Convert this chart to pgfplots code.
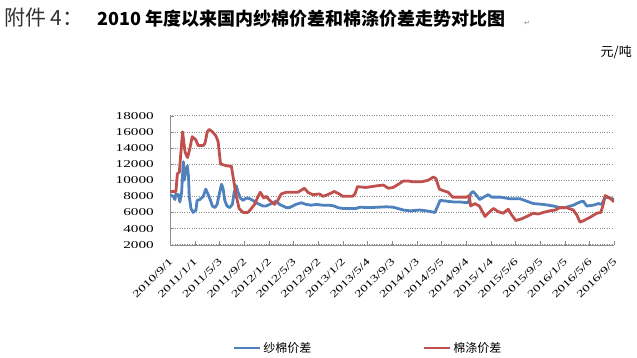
\documentclass[border=0pt]{standalone}
\usepackage{fontspec}
\usepackage{pgfplots}
\pgfplotsset{compat=1.18}
\setmainfont{Liberation Serif}
\newfontfamily\tickfont[FakeStretch=1.45]{Liberation Serif}
\newfontfamily\cjk{Noto Sans CJK SC}
\newfontfamily\symfont{DejaVu Sans}
\definecolor{cblue}{RGB}{79,129,189}
\definecolor{cred}{RGB}{192,80,77}
\begin{document}
\begin{tikzpicture}
\path[use as bounding box] (0,0) rectangle (637pt,357pt);
\node[anchor=base west, inner sep=0pt, text=black!80] at (4pt,331pt) {\cjk\fontsize{21}{24}\selectfont 附件 4：};
\node[anchor=base west, inner sep=0pt] at (97pt,331pt) {\cjk\bfseries\fontsize{18}{21}\selectfont 2010 年度以来国内纱棉价差和棉涤价差走势对比图};
\node[anchor=base west, inner sep=0pt, text=gray] at (524pt,331pt) {\symfont\fontsize{7}{8}\selectfont ↵};
\node[anchor=base east, inner sep=0pt] at (632pt,300pt) {\cjk\fontsize{13}{15}\selectfont 元/吨};
\begin{axis}[
  at={(170pt,112.3pt)}, anchor=south west,
  width=444pt, height=129pt, scale only axis,
  xmin=0, xmax=18, ymin=2000, ymax=18000,
  xtick={0,...,18},
  xticklabels={2010/9/1,2011/1/1,2011/5/3,2011/9/2,2012/1/2,2012/5/3,2012/9/2,2013/1/2,2013/5/4,2013/9/3,2014/1/3,2014/5/5,2014/9/4,2015/1/4,2015/5/6,2015/9/5,2016/1/5,2016/5/6,2016/9/5},
  ytick={2000,4000,...,18000},
  scaled y ticks=false,
  /pgf/number format/assume math mode=true,
  /pgf/number format/set thousands separator={},
  yticklabel style={font=\tickfont\fontsize{10.5}{12}\selectfont, anchor=east, inner sep=0pt, xshift=-16pt},
  xticklabel style={font=\tickfont\fontsize{10}{12}\selectfont, yshift=-15pt, xshift=1pt, rotate=45, anchor=east, inner sep=0pt},
  axis x line*=bottom, axis y line*=left,
  axis line style={-, color=gray!90},
  tick align=inside, major tick length=4pt,
  tick style={color=gray!90},
  ymajorgrids, grid style={dotted, color=gray!90, line width=0.6pt},
  legend style={font=\cjk\fontsize{12}{14}\selectfont, draw=none, fill=none, legend columns=2,
    at={(axis description cs:0.142,-0.80)}, anchor=west, inner sep=0pt,
    /tikz/every even column/.append style={column sep=110pt}},
  legend image code/.code={\draw[#1, line width=2pt] (0pt,0pt) -- (26pt,0pt);},
  legend cell align=left,
]
\addplot[cblue, line width=2.8pt, line join=round] coordinates {
(0,8200)(0.13,8000)(0.20,7600)(0.24,8300)(0.34,8200)(0.40,7300)(0.47,8500)(0.54,12300)
(0.58,10000)(0.63,11000)(0.70,11800)(0.75,10500)(0.78,8000)(0.85,6500)(0.94,6000)(1.05,6300)
(1.10,7500)(1.21,7600)(1.28,7800)(1.35,8000)(1.45,8900)(1.55,8200)(1.64,7500)(1.72,6800)
(1.82,6600)(1.91,7000)(1.99,8200)(2.09,9500)(2.15,9000)(2.22,7500)(2.31,6800)(2.42,6600)
(2.53,7000)(2.60,8500)(2.69,9300)(2.76,8500)(2.85,7800)(2.96,7500)(3.10,7800)(3.23,7700)
(3.36,7500)(3.50,7200)(3.63,7000)(3.77,6800)(3.90,6800)(4.04,7000)(4.17,7200)(4.31,7400)
(4.44,7000)(4.58,6800)(4.71,6600)(4.85,6600)(4.98,6800)(5.11,7000)(5.32,7200)(5.52,7000)
(5.72,6900)(5.92,7000)(6.19,6900)(6.46,6900)(6.66,6800)(6.80,6600)(7.00,6500)(7.54,6500)
(7.70,6650)(8.08,6600)(8.78,6700)(9.05,6650)(9.46,6300)(9.73,6200)(10.13,6300)(10.40,6200)
(10.74,6000)(10.84,6700)(10.95,7500)(11.22,7400)(11.49,7300)(11.75,7300)(12.09,7200)(12.20,8400)
(12.29,8600)(12.43,8100)(12.56,7600)(12.77,8000)(12.90,8200)(13.04,7900)(13.38,7900)(13.78,7700)
(14.19,7700)(14.46,7400)(14.73,7100)(15.13,7000)(15.54,6800)(15.81,6600)(16.01,6600)(16.35,6900)
(16.62,7300)(16.76,7400)(16.89,6800)(17.16,6900)(17.37,7100)(17.50,7000)(17.64,7900)(17.84,7800)
(18.0,7600)
};
\addlegendentry{纱棉价差}
\addplot[cred, line width=2.8pt, line join=round] coordinates {
(0,8600)(0.24,8600)(0.30,10800)(0.38,11000)(0.43,13000)(0.51,16000)(0.61,13500)(0.71,12800)
(0.81,14000)(0.90,15400)(1.05,15000)(1.14,14300)(1.35,14300)(1.42,14600)(1.51,16000)(1.59,16300)
(1.72,16000)(1.86,15500)(1.95,14800)(2.05,12000)(2.29,11800)(2.49,11700)(2.58,10000)(2.69,8000)
(2.80,6500)(2.96,6000)(3.16,6000)(3.30,6500)(3.43,7000)(3.57,8000)(3.66,8500)(3.80,7800)
(3.90,8000)(4.04,7500)(4.24,7000)(4.37,7500)(4.51,8300)(4.71,8500)(5.18,8500)(5.45,9000)
(5.59,8500)(5.79,8200)(6.06,8300)(6.19,8000)(6.39,8200)(6.66,8600)(6.86,8300)(7.00,8000)
(7.40,8000)(7.50,8300)(7.60,9200)(7.94,9100)(8.38,9300)(8.65,9400)(8.85,9000)(9.05,9100)
(9.26,9500)(9.46,9900)(9.66,9900)(9.86,9800)(10.20,9800)(10.47,10000)(10.68,10400)(10.78,10200)
(10.92,8900)(11.08,8700)(11.28,8500)(11.46,7900)(11.75,7900)(12.02,7900)(12.13,8100)(12.19,6800)
(12.36,7100)(12.54,6800)(12.77,5500)(12.90,5900)(13.11,6500)(13.31,6100)(13.51,5900)(13.71,6400)
(13.85,5700)(14.02,5000)(14.25,5200)(14.46,5500)(14.73,5900)(14.93,5800)(15.13,6000)(15.40,6200)
(15.61,6300)(15.81,6600)(16.08,6600)(16.35,6300)(16.49,5700)(16.62,4800)(16.78,5000)(17.03,5400)
(17.30,5900)(17.46,6000)(17.54,6700)(17.64,8100)(17.77,7900)(17.91,7600)(18.0,7300)
};
\addlegendentry{棉涤价差}
\end{axis}
\end{tikzpicture}
\end{document}
